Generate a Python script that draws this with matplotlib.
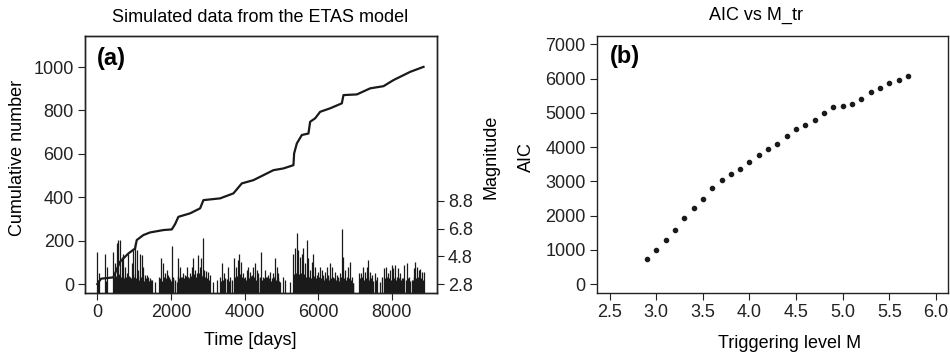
import numpy as np
import matplotlib
matplotlib.use("Agg")
import matplotlib.pyplot as plt

plt.rcParams['font.family'] = ['Liberation Sans', 'DejaVu Sans']

# cumulative number of events (breakpoints)
cum_time = [0, 100, 435, 617, 843, 1024, 1071, 1250, 1432, 1793, 2022, 2111, 2201,
            2519, 2791, 2882, 3334, 3696, 3924, 4239, 4511, 4783, 5054, 5326, 5345,
            5418, 5554, 5734, 5780, 5916, 6052, 6323, 6641, 6685, 7049, 7410, 7772,
            8043, 8497, 8859]
cum_count = [0, 25, 31, 103, 141, 164, 203, 226, 238, 249, 252, 276, 310,
             326, 349, 387, 395, 418, 464, 479, 502, 525, 533, 548, 602,
             648, 687, 694, 748, 764, 794, 810, 833, 871, 874, 902, 912,
             940, 978, 1001]

# larger events (time in days, magnitude)
ev_time = [0, 45, 208, 254, 435, 480, 525, 571, 616, 661, 707, 752, 797, 842, 888,
           933, 978, 1024, 1069, 1114, 1159, 1205, 1250, 1295, 1341, 1386, 1431,
           1477, 1567, 1685, 1721, 1793, 1839, 1884, 1929, 1975, 2020, 2065, 2156,
           2183, 2246, 2292, 2337, 2382, 2428, 2473, 2518, 2563, 2609, 2654, 2699,
           2744, 2790, 2817, 2862, 2899, 2953, 3016, 3062, 3152, 3261, 3333, 3397,
           3442, 3514, 3541, 3605, 3723, 3768, 3813, 3859, 3895, 3949, 4013, 4058,
           4103, 4149, 4194, 4239, 4284, 4330, 4375, 4438, 4493, 4556, 4601, 4647,
           4692, 4737, 4783, 4828, 4873, 4918, 4964, 5054, 5100, 5236, 5326, 5371,
           5417, 5462, 5507, 5552, 5598, 5643, 5688, 5733, 5779, 5824, 5869, 5914,
           5960, 6005, 6050, 6096, 6141, 6186, 6232, 6277, 6322, 6368, 6413, 6458,
           6504, 6549, 6594, 6639, 6667, 6730, 6775, 6821, 6866, 6911, 6957, 7120,
           7165, 7228, 7274, 7319, 7364, 7409, 7455, 7545, 7609, 7681, 7790, 7835,
           7889, 7935, 7998, 8043, 8089, 8134, 8179, 8225, 8270, 8333, 8406, 8451,
           8542, 8587, 8632, 8678, 8723, 8768, 8813, 8859]
ev_mag = [5.09, 3.57, 4.94, 4.05, 5.09, 4.29, 5.74, 5.98, 5.98, 4.77, 5.0, 4.05, 3.57, 5.0, 3.33,
          4.29, 5.25, 5.74, 5.25, 3.81, 5.0, 4.9, 4.05, 3.45, 3.45, 3.33, 3.21,
          3.09, 2.97, 3.33, 4.65, 4.29, 3.57, 3.81, 3.45, 3.14, 5.54, 3.33, 2.97,
          4.65, 4.05, 3.33, 3.57, 3.45, 4.05, 3.33, 3.57, 4.05, 4.65, 3.81, 3.57,
          4.9, 4.05, 4.65, 6.1, 3.81, 3.76, 3.69, 3.45, 2.97, 3.09, 3.33, 4.29,
          3.57, 3.14, 4.05, 3.33, 4.65, 4.05, 4.53, 5.0, 4.41, 3.57, 3.33, 3.81,
          4.05, 3.69, 3.45, 4.05, 4.29, 3.81, 3.57, 5.09, 3.33, 3.81, 3.33, 3.45,
          3.69, 3.21, 3.57, 4.65, 4.05, 3.57, 2.97, 3.33, 3.09, 2.97, 5.0, 5.38,
          6.51, 5.25, 4.77, 5.0, 5.38, 4.29, 5.98, 4.65, 3.81, 4.41, 5.0, 4.05,
          3.45, 3.69, 4.05, 3.81, 3.45, 3.69, 4.05, 3.45, 4.29, 4.05, 3.33, 3.69,
          3.45, 3.33, 3.57, 6.75, 4.77, 3.81, 3.33, 4.05, 4.41, 3.33, 2.85, 3.57,
          3.57, 4.05, 3.69, 4.05, 4.53, 3.69, 3.45, 3.57, 3.33, 2.97, 3.93, 4.05,
          3.57, 3.81, 4.17, 3.93, 4.17, 3.33, 3.93, 3.57, 3.21, 4.17, 4.29, 3.33,
          3.09, 3.93, 4.41, 4.05, 3.81, 3.86, 3.69, 3.69]

# small events forming the dense band at the bottom
small_time = [22, 230, 457, 503, 548, 594, 639, 684, 730, 775,
              820, 865, 910, 956, 1001, 1046, 1092, 1137, 1182, 1228,
              1273, 1318, 1364, 1409, 1454, 1700, 1757, 1816, 1861, 1906,
              1952, 1998, 2043, 2110, 2200, 2215, 2269, 2315, 2360, 2405,
              2451, 2496, 2541, 2586, 2632, 2677, 2722, 2767, 2840, 2880,
              2926, 2985, 3039, 3360, 3420, 3480, 3575, 3660, 3745, 3790,
              3836, 3877, 3922, 3981, 4036, 4081, 4126, 4171, 4216, 4262,
              4307, 4352, 4406, 4466, 4525, 4578, 4624, 4669, 4715, 4760,
              4805, 4851, 4896, 4941, 5348, 5394, 5440, 5485, 5530, 5575,
              5621, 5666, 5711, 5756, 5801, 5847, 5892, 5937, 5983, 6028,
              6073, 6118, 6164, 6209, 6254, 6300, 6345, 6390, 6436, 6481,
              6527, 6572, 6617, 6700, 6752, 6798, 6843, 6889, 6934, 7142,
              7197, 7251, 7296, 7342, 7387, 7432, 7500, 7577, 7735, 7812,
              7862, 7912, 7966, 8021, 8066, 8111, 8156, 8202, 8247, 8300,
              8370, 8428, 8490, 8565, 8610, 8655, 8700, 8745, 8790, 8836]
small_mag = [3.1, 3.0, 3.3, 3.4, 3.2, 3.5, 3.3, 3.4, 3.2, 3.3,
             3.1, 3.4, 3.2, 3.5, 3.3, 3.2, 3.4, 3.1, 3.3, 3.2,
             3.0, 3.2, 3.1, 3.0, 3.1, 3.2, 3.0, 3.3, 3.2, 3.1,
             3.3, 3.0, 3.2, 3.1, 3.4, 3.2, 3.3, 3.1, 3.2, 3.4,
             3.3, 3.2, 3.4, 3.3, 3.5, 3.3, 3.2, 3.6, 3.4, 3.5,
             3.3, 3.2, 3.1, 3.0, 3.1, 3.2, 3.0, 3.1, 3.3, 3.4,
             3.2, 3.5, 3.3, 3.2, 3.1, 3.3, 3.2, 3.4, 3.2, 3.3,
             3.1, 3.2, 3.3, 3.1, 3.2, 3.3, 3.1, 3.2, 3.0, 3.2,
             3.3, 3.1, 3.2, 3.0, 3.5, 3.6, 3.4, 3.5, 3.6, 3.4,
             3.5, 3.3, 3.4, 3.3, 3.2, 3.3, 3.4, 3.2, 3.1, 3.3,
             3.2, 3.3, 3.1, 3.2, 3.3, 3.1, 3.2, 3.0, 3.2, 3.1,
             3.2, 3.0, 3.3, 3.2, 3.1, 3.0, 3.2, 3.1, 2.9, 3.2,
             3.3, 3.1, 3.2, 3.3, 3.1, 3.2, 3.0, 3.1, 3.3, 3.2,
             3.3, 3.2, 3.1, 3.3, 3.2, 3.1, 3.3, 3.2, 3.1, 3.2,
             3.1, 3.2, 3.0, 3.1, 3.3, 3.2, 3.3, 3.1, 3.2, 3.1]

# AIC vs triggering level
m_tr = [2.9, 3.0, 3.1, 3.2, 3.3, 3.4, 3.5, 3.6, 3.7, 3.8, 3.9, 4.0, 4.1, 4.2, 4.3,
        4.4, 4.5, 4.6, 4.7, 4.8, 4.9, 5.0, 5.1, 5.2, 5.3, 5.4, 5.5, 5.6, 5.7]
aic = [721, 984, 1276, 1577, 1918, 2210, 2473, 2794, 3028, 3203, 3349, 3554, 3758,
       3933, 4080, 4313, 4518, 4635, 4781, 4985, 5160, 5190, 5248, 5394, 5599,
       5716, 5862, 5950, 6066]

fig = plt.figure(figsize=(9.5, 3.52), dpi=100)
fs = 13
ink = '#1a1a1a'

# ---- panel (a)
ax = fig.add_axes([0.0895, 0.1676, 0.3705, 0.730])
ax.plot(cum_time, cum_count, color=ink, lw=1.6)
ax.set_xlim(-334, 9225)
ax.set_ylim(-41, 1143)
ax.set_xticks([0, 2000, 4000, 6000, 8000])
ax.set_yticks([0, 200, 400, 600, 800, 1000])
ax.tick_params(labelsize=fs, length=5, direction='out', colors='#222222', pad=3)
ax.set_xlabel("Time [days]", fontsize=fs)
ax.set_ylabel("Cumulative number", fontsize=fs)
ax.xaxis.set_label_coords(0.469, -0.152)
ax.yaxis.set_label_coords(-0.168, 0.525)
fig.text(260 / 950, 1 - 18 / 352, "Simulated data from the ETAS model", fontsize=fs,
         ha='center', va='center')
ax.text(0.034, 0.957, "(a)", transform=ax.transAxes, fontsize=17, fontweight='bold',
        va='top', ha='left')

ax2 = ax.twinx()
mag_bottom = 2.15
ax2.vlines(small_time, mag_bottom, small_mag, color=ink, lw=1.0)
ax2.vlines(ev_time, mag_bottom, ev_mag, color=ink, lw=0.9)
ax2.set_ylim(mag_bottom, 20.7)
ax2.set_yticks([2.8, 4.8, 6.8, 8.8])
ax2.set_yticklabels(["2.8", "4.8", "6.8", "8.8"])
ax2.tick_params(labelsize=fs, length=5, direction='out', colors='#222222', pad=3)
ax2.set_ylabel("Magnitude", fontsize=fs)
ax2.yaxis.set_label_coords(1.128, 0.53)

# ---- panel (b)
bx = fig.add_axes([0.6284, 0.1676, 0.3695, 0.730])
bx.plot(m_tr, aic, 'o', color=ink, ms=3.0)
bx.set_xlim(2.364, 6.13)
bx.set_ylim(-263, 7243)
bx.set_xticks([2.5, 3.0, 3.5, 4.0, 4.5, 5.0, 5.5, 6.0])
bx.set_xticklabels(["2.5", "3.0", "3.5", "4.0", "4.5", "5.0", "5.5", "6.0"])
bx.set_yticks(range(0, 7001, 1000))
bx.tick_params(labelsize=fs, length=5, direction='out', colors='#222222', pad=3)
bx.set_xlabel("Triggering level M", fontsize=fs)
bx.xaxis.set_label_coords(0.55, -0.163)
bx.set_ylabel("AIC", fontsize=fs)
bx.yaxis.set_label_coords(-0.177, 0.53)
fig.text(756 / 950, 1 - 15 / 352, "AIC vs M_tr", fontsize=fs, ha='center', va='center')
bx.text(0.037, 0.965, "(b)", transform=bx.transAxes, fontsize=17, fontweight='bold',
        va='top', ha='left')

for a in (ax, ax2, bx):
    for s in a.spines.values():
        s.set_linewidth(1.0)
        s.set_color('#222222')

fig.savefig("out.png", dpi=100)
